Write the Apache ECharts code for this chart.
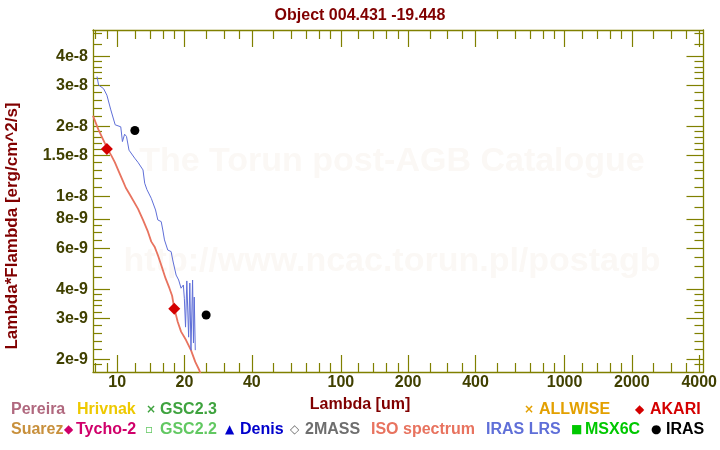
<!DOCTYPE html>
<html><head><meta charset="utf-8">
<script src="https://cdn.jsdelivr.net/npm/echarts@6/dist/echarts.min.js"></script>
<style>html,body{margin:0;padding:0;background:#fff}#c{width:720px;height:450px}</style>
</head><body><div id="c"></div>
<script>
// ---- data (wavelength in um, flux in erg/cm^2/s) ----
const isoLambda = [7.8, 8.24, 8.67, 9.06, 9.45, 9.77, 10.21, 10.63, 10.93, 11.39, 12.4, 13.05, 13.73, 14.21, 14.7, 15.2, 15.74, 16.45, 17.13, 17.61, 17.96, 18.65, 19.31, 20.32, 21.38, 22.35, 23.28, 24.2];
const isoFlux   = [2.22e-8, 1.94e-8, 1.75e-8, 1.60e-8, 1.49e-8, 1.40e-8, 1.27e-8, 1.16e-8, 1.09e-8, 1.02e-8, 8.85e-9, 7.93e-9, 7.06e-9, 6.40e-9, 6.09e-9, 5.61e-9, 5.08e-9, 4.46e-9, 4.04e-9, 3.75e-9, 3.35e-9, 2.90e-9, 2.63e-9, 2.42e-9, 2.19e-9, 1.95e-9, 1.80e-9, 1.62e-9];
const lrsLambda = [8.13, 8.26, 8.70, 9.00, 9.35, 9.80, 10.38, 10.56, 10.80, 11.01, 11.30, 11.98, 12.40, 13.05, 13.28, 13.59, 14.21, 14.85, 15.20, 15.74, 16.00, 16.28, 16.84, 17.43, 17.72, 18.35, 18.84, 19.31, 19.77, 19.97, 20.22, 20.49, 20.87, 21.13, 21.38, 21.74, 21.94, 22.12, 22.35];
const lrsFlux   = [3.27e-8, 3.01e-8, 2.90e-8, 2.72e-8, 2.37e-8, 2.03e-8, 1.99e-8, 1.72e-8, 1.85e-8, 1.81e-8, 1.58e-8, 1.46e-8, 1.40e-8, 1.30e-8, 1.14e-8, 1.07e-8, 9.82e-9, 8.75e-9, 7.93e-9, 7.80e-9, 7.18e-9, 6.51e-9, 5.89e-9, 5.80e-9, 5.34e-9, 4.60e-9, 4.38e-9, 4.04e-9, 4.17e-9, 3.66e-9, 2.75e-9, 4.34e-9, 2.49e-9, 4.25e-9, 2.19e-9, 4.38e-9, 2.35e-9, 3.70e-9, 2.19e-9];
const akariLambda = [9, 18];
const akariFlux   = [1.60e-8, 3.30e-9];
const irasLambda  = [12, 25];
const irasFlux    = [1.92e-8, 3.10e-9];

// ---- axes ----
const xRange = [7.8, 4180];
const yRange = [1.765e-9, 5.18e-8];
const xMajorTicks  = [10, 20, 40, 100, 200, 400, 1000, 2000, 4000];
const xMajorLabels = ['10', '20', '40', '100', '200', '400', '1000', '2000', '4000'];
const xMinorTicks  = [8, 9, 12, 14, 16, 18, 25, 30, 35, 50, 60, 70, 80, 90, 120, 140, 160, 180, 250, 300, 350, 500, 600, 700, 800, 900, 1200, 1400, 1600, 1800, 2500, 3000, 3500];
const yMajorTicks  = [4e-8, 3e-8, 2e-8, 1.5e-8, 1e-8, 8e-9, 6e-9, 4e-9, 3e-9, 2e-9];
const yMajorLabels = ['4e-8', '3e-8', '2e-8', '1.5e-8', '1e-8', '8e-9', '6e-9', '4e-9', '3e-9', '2e-9'];
const yMinorTicks  = [5e-8, 4.5e-8, 3.8e-8, 3.6e-8, 3.4e-8, 3.2e-8, 2.8e-8, 2.6e-8, 2.4e-8, 2.2e-8, 1.9e-8, 1.8e-8, 1.7e-8, 1.6e-8, 1.4e-8, 1.3e-8, 1.2e-8, 1.1e-8, 9e-9, 7.5e-9, 7e-9, 6.5e-9, 5.5e-9, 5e-9, 4.5e-9, 3.8e-9, 3.6e-9, 3.4e-9, 3.2e-9, 2.8e-9, 2.6e-9, 2.4e-9, 2.2e-9, 1.9e-9];

// ---- legend ----
const legendRow1 = [
  {sym: '', text: 'Pereira', color: '#b0687e'},
  {sym: '', text: 'Hrivnak', color: '#eec900'},
  {sym: '×', text: 'GSC2.3', color: '#3fa33f'},
  {sym: '×', text: 'ALLWISE', color: '#e3a000'},
  {sym: '◆', text: 'AKARI', color: '#d40000'}
];
const legendRow2 = [
  {sym: '', text: 'Suarez', color: '#c8903c'},
  {sym: '◆', text: 'Tycho-2', color: '#d0006a'},
  {sym: '▫', text: 'GSC2.2', color: '#62c862'},
  {sym: '▲', text: 'Denis', color: '#0000cc'},
  {sym: '◇', text: '2MASS', color: '#6e6e6e'},
  {sym: '', text: 'ISO spectrum', color: '#e8735f'},
  {sym: '', text: 'IRAS LRS', color: '#5f6fd8'},
  {sym: '■', text: 'MSX6C', color: '#00c800'},
  {sym: '●', text: 'IRAS', color: '#000000'}
];

// ---- build ----
const L = Math.log10;
const pairs = (xs, ys) => xs.map((v, i) => [L(v), L(ys[i])]);
const FONT = "'Liberation Sans', Arial, sans-serif";
const OLIVE = '#808000';
const LABEL = '#404000';
const DARKRED = '#800000';

function nearestLabel(v, ticks, labels) {
  let best = 0, bd = Infinity;
  ticks.forEach((t, i) => { const d = Math.abs(L(t) - v); if (d < bd) { bd = d; best = i; } });
  return labels[best];
}

function mkAxis(dim, pos, ticks, len, showLine, labels) {
  const range = dim === 'x' ? xRange : yRange;
  const ax = {
    type: 'value', position: pos, min: L(range[0]), max: L(range[1]),
    gridIndex: 0,
    axisLine: {show: showLine, lineStyle: {color: OLIVE, width: 1.3}},
    axisTick: {show: true, inside: true, length: len, customValues: ticks.map(L), lineStyle: {color: OLIVE, width: 1.2}},
    splitLine: {show: false},
    axisLabel: {show: false}
  };
  if (labels) {
    ax.axisLabel = {
      show: true, customValues: ticks.map(L), margin: dim === 'x' ? 3 : 5,
      color: LABEL, fontFamily: FONT, fontWeight: 'bold', fontSize: 16,
      formatter: v => nearestLabel(v, ticks, labels)
    };
  }
  return ax;
}

const xAxes = [
  mkAxis('x', 'bottom', xMajorTicks, 17, true, xMajorLabels),
  mkAxis('x', 'bottom', xMinorTicks, 9, false),
  mkAxis('x', 'top', xMajorTicks, 17, true),
  mkAxis('x', 'top', xMinorTicks, 9, false)
];
const yAxes = [
  mkAxis('y', 'left', yMajorTicks, 17, true, yMajorLabels),
  mkAxis('y', 'left', yMinorTicks, 9, false),
  mkAxis('y', 'right', yMajorTicks, 17, true),
  mkAxis('y', 'right', yMinorTicks, 9, false)
];

// legend layout
const row1X = [[null, 11], [null, 77], [146, 160], [524, 539], [635, 650]];
const row2X = [[null, 11], [64, 76], [145, 160], [225, 240], [290, 305], [null, 371], [null, 486], [571, 585], [651, 666]];
const graphics = [];
function addRow(items, xs, y) {
  items.forEach((it, i) => {
    if (it.sym) {
      graphics.push({type: 'text', x: xs[i][0], y: y, z: 10,
        style: {text: it.sym, fill: it.color, font: "bold 12px 'DejaVu Sans', sans-serif", textVerticalAlign: 'middle'}});
    }
    graphics.push({type: 'text', x: xs[i][1], y: y, z: 10,
      style: {text: it.text, fill: it.color, font: 'bold 16px ' + FONT, textVerticalAlign: 'middle'}});
  });
}
addRow(legendRow1, row1X, 410);
addRow(legendRow2, row2X, 430);

// watermark
graphics.push({type: 'text', x: 392, y: 162, z: 0, style: {text: 'The Torun post-AGB Catalogue', fill: '#fbf8f5', font: 'bold 34px ' + FONT, textAlign: 'center', textVerticalAlign: 'middle'}});
graphics.push({type: 'text', x: 392, y: 262, z: 0, style: {text: 'http://www.ncac.torun.pl/postagb', fill: '#fbf8f5', font: 'bold 34px ' + FONT, textAlign: 'center', textVerticalAlign: 'middle'}});
// axis names
graphics.push({type: 'text', x: 12, y: 226, rotation: Math.PI / 2, z: 10, style: {text: 'Lambda*Flambda [erg/cm^2/s]', fill: DARKRED, font: 'bold 17px ' + FONT, textAlign: 'center', textVerticalAlign: 'middle'}});
graphics.push({type: 'text', x: 360, y: 405, z: 10, style: {text: 'Lambda [um]', fill: DARKRED, font: 'bold 16px ' + FONT, textAlign: 'center', textVerticalAlign: 'middle'}});

const chart = echarts.init(document.getElementById('c'), null, {renderer: 'canvas'});
chart.setOption({
  animation: false,
  backgroundColor: '#ffffff',
  title: {text: 'Object 004.431 -19.448', left: 'center', top: 3,
    textStyle: {color: DARKRED, fontFamily: FONT, fontWeight: 'bold', fontSize: 16}},
  grid: {left: 93, right: 12, top: 30, bottom: 78, containLabel: false},
  xAxis: xAxes,
  yAxis: yAxes,
  graphic: graphics,
  series: [
    {name: 'ISO spectrum', type: 'line', xAxisIndex: 0, yAxisIndex: 0, data: pairs(isoLambda, isoFlux),
      showSymbol: false, symbol: 'none', clip: true, lineStyle: {color: '#e8735f', width: 1.8}, z: 3},
    {name: 'IRAS LRS', type: 'line', xAxisIndex: 0, yAxisIndex: 0, data: pairs(lrsLambda, lrsFlux),
      showSymbol: false, symbol: 'none', clip: true, lineStyle: {color: '#5f6fd8', width: 1}, z: 3},
    {name: 'AKARI', type: 'scatter', xAxisIndex: 0, yAxisIndex: 0, data: pairs(akariLambda, akariFlux),
      symbol: 'diamond', symbolSize: 12, itemStyle: {color: '#d40000', opacity: 1}, z: 5},
    {name: 'IRAS', type: 'scatter', xAxisIndex: 0, yAxisIndex: 0, data: pairs(irasLambda, irasFlux),
      symbol: 'circle', symbolSize: 9, itemStyle: {color: '#000000', opacity: 1}, z: 5}
  ]
});
</script>
</body></html>
